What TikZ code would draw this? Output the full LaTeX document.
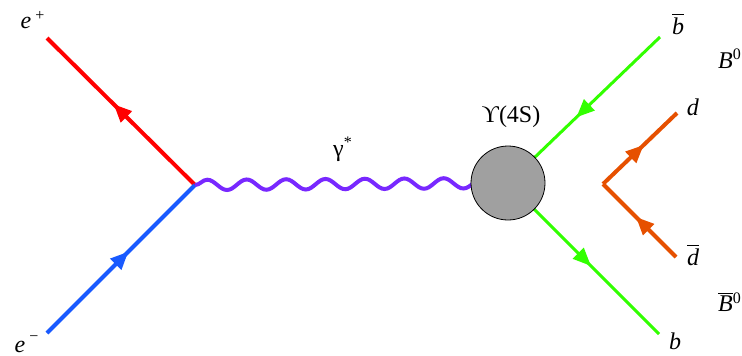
\documentclass[tikz,border=0pt]{standalone}
\usepackage{fontspec}
\setmainfont{Liberation Serif}
\usetikzlibrary{arrows.meta,decorations.markings,decorations.pathmorphing}

\definecolor{eplus}{RGB}{255,0,0}
\definecolor{eminus}{RGB}{25,90,255}
\definecolor{photoncol}{RGB}{120,40,255}
\definecolor{bquark}{RGB}{50,255,0}
\definecolor{dquark}{RGB}{230,80,0}
\definecolor{blobgray}{RGB}{160,160,160}

\begin{document}
\begin{tikzpicture}[x=0.5pt, y=-0.5pt,
    fermion/.style={line width=2pt, postaction={decorate},
      decoration={markings, mark=at position 0.55 with {\arrow{Triangle[length=9pt,width=7.5pt]}}}},
    photon/.style={line width=2pt, photoncol, decorate,
      decoration={snake, segment length=19.7pt, amplitude=2.6pt}},
    lbl/.style={inner sep=0pt, font=\fontsize{12}{14}\selectfont}]
    \useasboundingbox (0,0) rectangle (742,355);
    % vertices and outer ends
    \coordinate (v1) at (195,185);
    \coordinate (ep) at (47,38);
    \coordinate (em) at (47,333);
    \coordinate (upsc) at (508,183);
    \coordinate (bb) at (660,37);
    \coordinate (b) at (659,334);
    \coordinate (v2) at (603,184);
    \coordinate (d) at (677,113);
    \coordinate (db) at (676,257);
    % incoming leptons
    \draw[fermion, eplus] (v1) -- (ep);
    \draw[fermion, eminus] (em) -- (v1);
    % photon and b quarks, drawn under the blob
    \draw[photon] (v1) -- (upsc);
    \draw[fermion, bquark, line width=1.5pt] (bb) -- (upsc);
    \draw[fermion, bquark, line width=1.5pt] (upsc) -- (b);
    \node[circle, draw, line width=0.4pt, fill=blobgray, minimum size=37pt, inner sep=0pt] (ups) at (upsc) {};
    % spectator d quarks
    \draw[fermion, dquark] (v2) -- (d);
    \draw[fermion, dquark] (db) -- (v2);
    % labels
    \node[lbl] (lep) at (33,20) {\textit{e}\,\textsuperscript{+}};
    \node[lbl] (lem) at (27,344) {\textit{e}\,\textsuperscript{\raisebox{0.3ex}{−}}};
    \node[lbl] (lgam) at (343,149) {γ\textsuperscript{*}};
    \node[lbl] (lups) at (511,117) {ϒ(4S)};
    \node[lbl] (lbb) at (678,24) {$\overline{\mbox{\itshape b}}$};
    \node[lbl] (lB) at (730,59) {\textit{B}\textsuperscript{0}};
    \node[lbl] (ld) at (693,107) {\textit{d}};
    \node[lbl] (ldb) at (693,255) {$\overline{\mbox{\itshape d}}$};
    \node[lbl] (lBb) at (730,302) {$\overline{\mbox{\itshape B}}$\textsuperscript{0}};
    \node[lbl] (lb) at (675,341) {\textit{b}};
\end{tikzpicture}
\end{document}
